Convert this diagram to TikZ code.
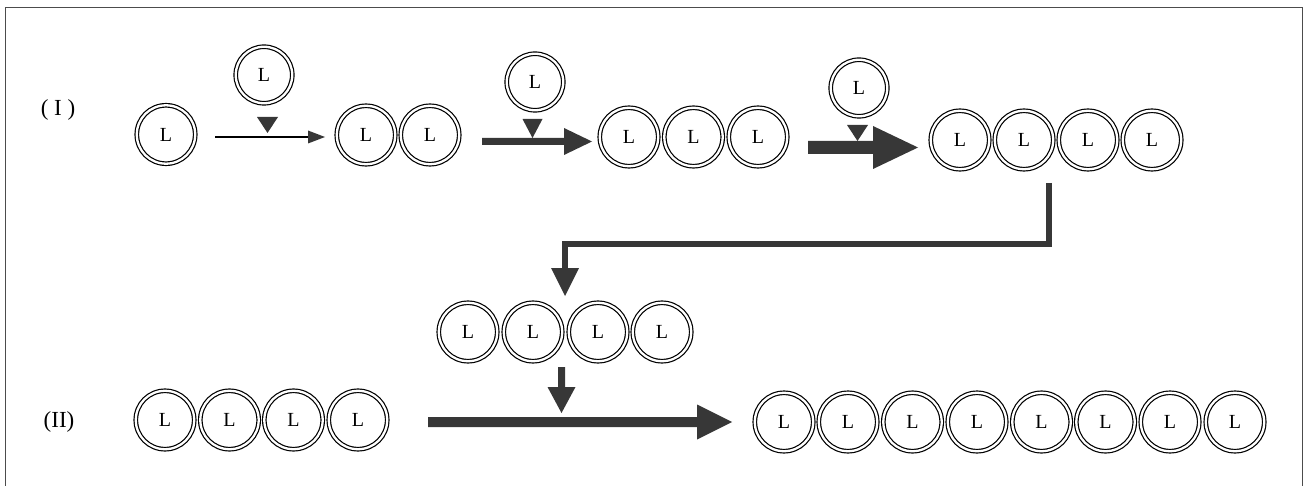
\documentclass[tikz,border=0pt]{standalone}
\usepackage{fontspec}
\setmainfont{Liberation Serif}
\usetikzlibrary{calc}
\definecolor{arrowgray}{RGB}{55,55,55}
\tikzset{
  ring/.style={circle, draw=black, line width=1.2pt, double=white, double distance=2.3pt,
    minimum size=58.4pt, inner sep=0pt, font=\fontsize{20}{20}\selectfont},
  topring/.style={ring, minimum size=56.5pt},
  rowlabel/.style={font=\fontsize{23}{23}\selectfont, inner sep=0pt},
  arrowfill/.style={fill=arrowgray},
  framestyle/.style={draw=black!70, line width=0.9pt}
}
% horizontal block arrow: start, tip, shaft half width, head half width, head length
\newcommand{\myharrow}[5]{%
  \fill[arrowfill] ($(#1)+(0,-#3)$) -- ($(#2)+(-#5,-#3)$) -- ($(#2)+(-#5,-#4)$) -- (#2)
    -- ($(#2)+(-#5,#4)$) -- ($(#2)+(-#5,#3)$) -- ($(#1)+(0,#3)$) -- cycle;}
% downward block arrow
\newcommand{\myvarrow}[5]{%
  \fill[arrowfill] ($(#1)+(-#3,0)$) -- ($(#2)+(-#3,-#5)$) -- ($(#2)+(-#4,-#5)$) -- (#2)
    -- ($(#2)+(#4,-#5)$) -- ($(#2)+(#3,-#5)$) -- ($(#1)+(#3,0)$) -- cycle;}
% small down triangle with tip
\newcommand{\mytri}[3]{%
  \fill[arrowfill] ($(#1)+(-#2,-#3)$) -- ($(#1)+(#2,-#3)$) -- (#1) -- cycle;}
\begin{document}
\begin{tikzpicture}[x=1pt, y=-1pt]
\useasboundingbox (0,0) rectangle (1308,486);
% frame
\draw[framestyle] (5.5,486) -- (5.5,7) -- (1302,7) -- (1302,486);

% row labels
\node[rowlabel] (lab1) at (58,110) {( I )};
\node[rowlabel] (lab2) at (59,422) {(II)};

% ---- row I ----
\node[ring] (l1) at (166,134.5) {L};

\node[topring] (t1) at (264,75) {L};
\coordinate (tri1) at (267.5,133);
\mytri{tri1}{10.5}{16}
\coordinate (a1s) at (215,137);
\coordinate (a1e) at (325,137);
\draw[line width=1.1pt] (a1s) -- ($(a1e)+(-16,0)$);
\fill[arrowfill] (a1e) -- ($(a1e)+(-17,-6.5)$) -- ($(a1e)+(-17,6.5)$) -- cycle;

\node[ring] (ll1) at (366,135) {L};
\node[ring] (ll2) at (430,135) {L};

\node[topring] (t2) at (535,82) {L};
\coordinate (a2s) at (482,141.5);
\coordinate (a2e) at (592,141.5);
\myharrow{a2s}{a2e}{3.5}{13.5}{28}
\coordinate (tri2) at (532.5,138);
\mytri{tri2}{10}{19}

\node[ring] (lll1) at (629,137) {L};
\node[ring] (lll2) at (693.5,137) {L};
\node[ring] (lll3) at (758,137) {L};

\node[topring] (t3) at (859,88) {L};
\coordinate (a3s) at (808,147.5);
\coordinate (a3e) at (918,147.5);
\myharrow{a3s}{a3e}{6.5}{21.5}{45}
\coordinate (tri3) at (857.5,141);
\mytri{tri3}{10.5}{16}

\node[ring] (la1) at (960,140) {L};
\node[ring] (la2) at (1024,140) {L};
\node[ring] (la3) at (1088,140) {L};
\node[ring] (la4) at (1152,140) {L};

% elbow connector
\coordinate (e1) at (1049,183);
\coordinate (e2) at (1049,244);
\coordinate (e3) at (565,244);
\coordinate (e4) at (565,296);
\draw[arrowgray, line width=6pt, line join=miter] (e1) -- (e2) -- (e3) -- ($(e4)+(0,-27)$);
\fill[arrowfill] (e4) -- ($(e4)+(-14,-28)$) -- ($(e4)+(14,-28)$) -- cycle;

% middle row
\node[ring] (m1) at (468,332) {L};
\node[ring] (m2) at (533,332) {L};
\node[ring] (m3) at (598,332) {L};
\node[ring] (m4) at (662,332) {L};

\coordinate (d1) at (561.5,367);
\coordinate (d2) at (561.5,413);
\myvarrow{d1}{d2}{3.5}{14}{26}

% ---- row II ----
\node[ring] (p1) at (165,420) {L};
\node[ring] (p2) at (229.5,420) {L};
\node[ring] (p3) at (293.5,420) {L};
\node[ring] (p4) at (358,420) {L};

\coordinate (b1) at (428,422);
\coordinate (b2) at (732,422);
\myharrow{b1}{b2}{5}{17.5}{35}

\node[ring] (q1) at (784,422) {L};
\node[ring] (q2) at (848,422) {L};
\node[ring] (q3) at (912.5,422) {L};
\node[ring] (q4) at (977,422) {L};
\node[ring] (q5) at (1041.5,422) {L};
\node[ring] (q6) at (1105.5,422) {L};
\node[ring] (q7) at (1170,422) {L};
\node[ring] (q8) at (1235,422) {L};
\end{tikzpicture}
\end{document}
